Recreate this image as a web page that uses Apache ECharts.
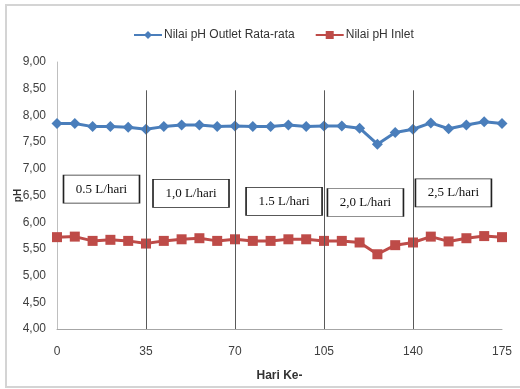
<!DOCTYPE html>
<html>
<head>
<meta charset="utf-8">
<script src="https://cdn.jsdelivr.net/npm/echarts@6/dist/echarts.min.js"></script>
<style>
  html, body { margin: 0; padding: 0; background: #fff; }
  #chart { width: 520px; height: 389px; }
</style>
</head>
<body>
<div id="chart"></div>
<script>
// Sampling days (every 7 days)
const days = [0, 7, 14, 21, 28, 35, 42, 49, 56, 63, 70, 77, 84, 91, 98, 105, 112, 119, 126, 133, 140, 147, 154, 161, 168, 175];

// Average outlet pH
const phOutlet = [7.85, 7.85, 7.79, 7.79, 7.78, 7.74, 7.79, 7.82, 7.82, 7.79, 7.80, 7.79, 7.79, 7.82, 7.79, 7.80, 7.80, 7.76, 7.46, 7.68, 7.74, 7.86, 7.75, 7.82, 7.88, 7.85];

// Inlet pH
const phInlet = [5.72, 5.73, 5.65, 5.67, 5.65, 5.60, 5.65, 5.68, 5.70, 5.65, 5.68, 5.65, 5.65, 5.68, 5.68, 5.65, 5.65, 5.62, 5.40, 5.57, 5.62, 5.73, 5.64, 5.70, 5.74, 5.72];

// Phase boundaries (days) and loading-rate labels
const phaseBounds = [35, 70, 105, 140];
const phaseLabels = ['0.5 L/hari', '1,0 L/hari', '1.5 L/hari', '2,0 L/hari', '2,5 L/hari'];
const phaseLabelDay = [17.5, 52.7, 89.3, 121.3, 155.9];
const phaseLabelPh = [6.62, 6.54, 6.39, 6.37, 6.55];

const seriesNames = ['Nilai pH Outlet Rata-rata', 'Nilai pH Inlet'];

const sansFont = 'Liberation Sans, sans-serif';

const chart = echarts.init(document.getElementById('chart'));

const pairs = (ys) => days.map((d, i) => [d, ys[i]]);

chart.setOption({
  animation: false,
  backgroundColor: '#fff',
  graphic: [{
    type: 'rect',
    shape: { x: 6, y: 5, width: 530, height: 382 },
    style: { fill: 'none', stroke: '#d4d4d4', lineWidth: 2 },
    silent: true
  }],
  legend: {
    top: 24,
    left: 128,
    itemWidth: 28,
    itemHeight: 10,
    itemGap: 20,
    textStyle: { fontFamily: sansFont, fontSize: 12, color: '#333', padding: [0, 0, 0, -3] },
    data: seriesNames
  },
  grid: { left: 57, right: 18, top: 62, bottom: 60, containLabel: false, outerBoundsMode: 'none' },
  xAxis: {
    type: 'value',
    min: 0, max: 175, interval: 35,
    name: 'Hari Ke-',
    nameLocation: 'middle',
    nameGap: 41,
    nameMoveOverlap: false,
    nameTextStyle: { fontFamily: sansFont, fontWeight: 'bold', fontSize: 12, color: '#333' },
    axisLine: { lineStyle: { color: '#a6a6a6', width: 1 } },
    axisTick: { show: false },
    axisLabel: { fontFamily: sansFont, fontSize: 12, color: '#404040', margin: 17 },
    splitLine: { show: false }
  },
  yAxis: {
    type: 'value',
    min: 4, max: 9, interval: 0.5,
    name: 'pH',
    nameLocation: 'middle',
    nameGap: 34,
    nameMoveOverlap: false,
    nameTextStyle: { fontFamily: sansFont, fontWeight: 'bold', fontSize: 10, color: '#333' },
    axisLine: { show: true, lineStyle: { color: '#bfbfbf', width: 1 } },
    axisTick: { show: false },
    axisLabel: {
      fontFamily: sansFont, fontSize: 12, color: '#404040', margin: 11,
      formatter: (v) => v.toFixed(2).replace('.', ',')
    },
    splitLine: { show: false }
  },
  series: [
    {
      name: seriesNames[0],
      type: 'line',
      data: pairs(phOutlet),
      symbol: 'diamond',
      symbolSize: 11,
      lineStyle: { color: '#4a7ebb', width: 3 },
      itemStyle: { color: '#4a7ebb' },
      z: 3,
      markLine: {
        silent: true,
        symbol: 'none',
        label: { show: false },
        lineStyle: { color: '#595959', width: 1, type: 'solid' },
        data: phaseBounds.map((d) => [{ coord: [d, 8.47] }, { coord: [d, 4] }])
      }
    },
    {
      name: seriesNames[1],
      type: 'line',
      data: pairs(phInlet),
      symbol: 'rect',
      symbolSize: 10,
      lineStyle: { color: '#be4b48', width: 3 },
      itemStyle: { color: '#be4b48' },
      z: 3,
      markPoint: {
        silent: true,
        symbol: 'rect',
        symbolSize: [76, 28],
        itemStyle: { color: '#fff', borderColor: '#222', borderWidth: 1 },
        label: {
          show: true,
          position: 'inside',
          color: '#111',
          fontFamily: 'Liberation Serif, serif',
          fontSize: 13,
          formatter: (p) => p.name
        },
        data: phaseLabels.map((t, i) => ({ name: t, coord: [phaseLabelDay[i], phaseLabelPh[i]] }))
      }
    }
  ]
});
</script>
</body>
</html>
